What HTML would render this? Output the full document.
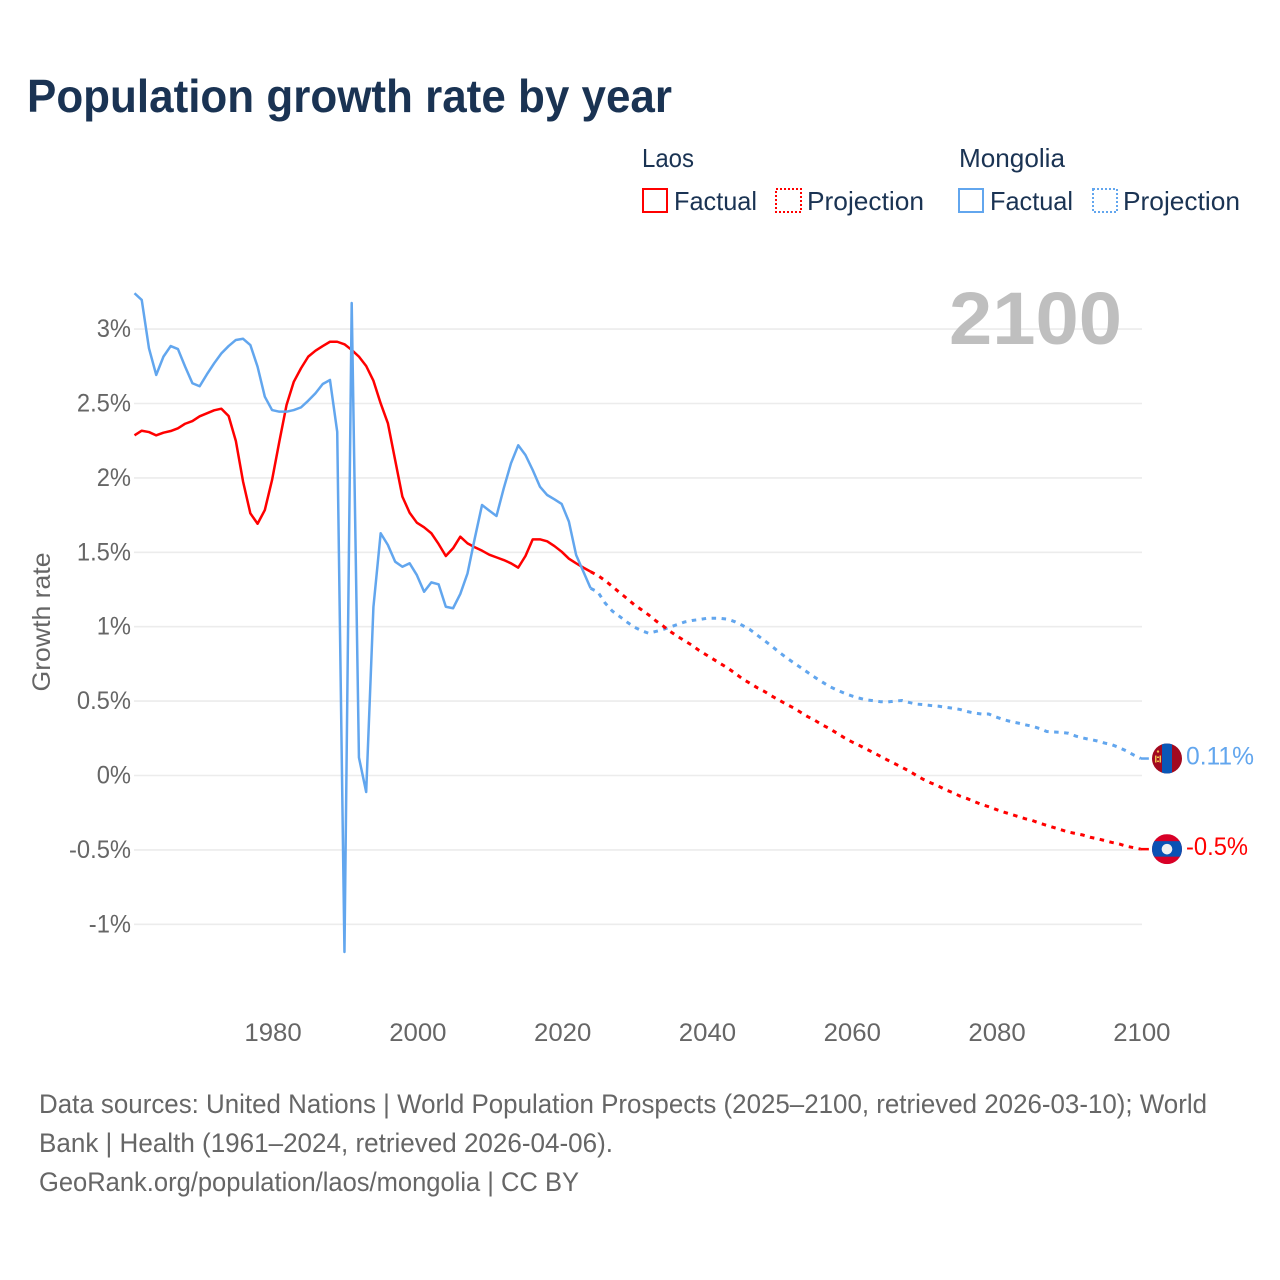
<!DOCTYPE html>
<html lang="en">
<head>
<meta charset="utf-8">
<title>Population growth rate by year</title>
<style>
html,body{margin:0;padding:0;background:#fff;width:1280px;height:1280px;overflow:hidden}
svg{display:block;font-family:"Liberation Sans",sans-serif}
</style>
</head>
<body>
<svg id="chart" width="1280" height="1280" viewBox="0 0 1280 1280" xmlns="http://www.w3.org/2000/svg">
  <rect width="1280" height="1280" fill="#fff"/>
  <text x="27" y="112" font-size="46" font-weight="700" fill="#1a3353" textLength="645" lengthAdjust="spacingAndGlyphs">Population growth rate by year</text>

  <g font-size="26" fill="#1a3353">
    <text x="642" y="167" textLength="52" lengthAdjust="spacingAndGlyphs">Laos</text>
    <text x="959" y="167" textLength="106" lengthAdjust="spacingAndGlyphs">Mongolia</text>
    <rect x="643" y="189" width="24" height="23" fill="none" stroke="#ff0000" stroke-width="2"/>
    <text x="674" y="210" textLength="83" lengthAdjust="spacingAndGlyphs">Factual</text>
    <rect x="776" y="189" width="25" height="23" fill="none" stroke="#ff0000" stroke-width="2" stroke-dasharray="2 2"/>
    <text x="807" y="210" textLength="117" lengthAdjust="spacingAndGlyphs">Projection</text>
    <rect x="959" y="189" width="24" height="23" fill="none" stroke="#62a6ee" stroke-width="2"/>
    <text x="990" y="210" textLength="83" lengthAdjust="spacingAndGlyphs">Factual</text>
    <rect x="1093" y="189" width="24" height="23" fill="none" stroke="#62a6ee" stroke-width="2" stroke-dasharray="2 2"/>
    <text x="1123" y="210" textLength="117" lengthAdjust="spacingAndGlyphs">Projection</text>
  </g>

  <g id="grid"></g>
  <text x="949" y="344" font-size="74" font-weight="700" fill="#bfbfbf" textLength="173" lengthAdjust="spacingAndGlyphs">2100</text>
  <g id="yticks" font-size="25" fill="#666666" text-anchor="end"></g>
  <g id="xticks" font-size="25" fill="#666666" text-anchor="middle"></g>
  <text transform="translate(50 622) rotate(-90)" font-size="25" fill="#666666" text-anchor="middle" textLength="139" lengthAdjust="spacingAndGlyphs">Growth rate</text>
  <g id="series" fill="none" stroke-width="2.5" stroke-linejoin="round"></g>

  <defs>
    <clipPath id="flag-clip"><circle cx="0" cy="0" r="15"/></clipPath>
  </defs>
  <g id="flag-mongolia">
    <g clip-path="url(#flag-clip)">
      <rect x="-15" y="-15" width="30" height="30" fill="#a2091f"/>
      <rect x="-5" y="-15" width="10" height="30" fill="#0a57b6"/>
      <rect x="-12" y="-3" width="1.5" height="7" fill="#f2c14e"/>
      <rect x="-7.5" y="-3" width="1.5" height="7" fill="#f2c14e"/>
      <rect x="-10" y="-2" width="2" height="1.5" fill="#f2c14e"/>
      <rect x="-10" y="2" width="2" height="1.5" fill="#f2c14e"/>
      <circle cx="-9" cy="-7" r="1.2" fill="#f2c14e"/>
    </g>
  </g>
  <g id="flag-laos">
    <g clip-path="url(#flag-clip)">
      <rect x="-15" y="-15" width="30" height="30" fill="#d80027"/>
      <rect x="-15" y="-8" width="30" height="15.5" fill="#0a52b4"/>
      <circle cx="0" cy="0" r="5.3" fill="#f0f0f0"/>
    </g>
  </g>
  <text id="label-mongolia" x="1186" font-size="25" fill="#62a6ee" textLength="68" lengthAdjust="spacingAndGlyphs"></text>
  <text id="label-laos" x="1186" font-size="25" fill="#ff0000" textLength="62" lengthAdjust="spacingAndGlyphs"></text>

  <g font-size="27" fill="#666666">
    <text x="39" y="1113" textLength="1168" lengthAdjust="spacingAndGlyphs">Data sources: United Nations | World Population Prospects (2025–2100, retrieved 2026-03-10); World</text>
    <text x="39" y="1152" textLength="574" lengthAdjust="spacingAndGlyphs">Bank | Health (1961–2024, retrieved 2026-04-06).</text>
    <text x="39" y="1191" textLength="540" lengthAdjust="spacingAndGlyphs">GeoRank.org/population/laos/mongolia | CC BY</text>
  </g>
</svg>

<script>
const yTickValues = [3, 2.5, 2, 1.5, 1, 0.5, 0, -0.5, -1];
const yTickLabels = ["3%", "2.5%", "2%", "1.5%", "1%", "0.5%", "0%", "-0.5%", "-1%"];
const xTickYears = [1980, 2000, 2020, 2040, 2060, 2080, 2100];
const factualStartYear = 1961;
const projectionStartYear = 2025;
const laosFactual = [2.286,2.317,2.308,2.286,2.304,2.315,2.333,2.364,2.382,2.414,2.434,2.454,2.465,2.416,2.248,1.974,1.762,1.692,1.784,1.986,2.243,2.490,2.646,2.737,2.815,2.855,2.886,2.915,2.915,2.898,2.860,2.815,2.752,2.653,2.501,2.367,2.120,1.874,1.766,1.699,1.668,1.628,1.556,1.475,1.527,1.605,1.560,1.534,1.511,1.484,1.466,1.448,1.426,1.397,1.475,1.587,1.587,1.574,1.542,1.504,1.457,1.426,1.397,1.370];
const mongoliaFactual = [3.241,3.196,2.871,2.692,2.815,2.886,2.866,2.747,2.636,2.616,2.696,2.770,2.837,2.886,2.927,2.935,2.893,2.747,2.546,2.456,2.445,2.445,2.456,2.474,2.519,2.569,2.631,2.658,2.310,-1.186,3.175,0.121,-0.111,1.132,1.628,1.549,1.437,1.403,1.426,1.347,1.235,1.298,1.285,1.134,1.124,1.220,1.359,1.594,1.818,1.780,1.744,1.930,2.098,2.219,2.154,2.053,1.941,1.885,1.856,1.825,1.706,1.482,1.370,1.258];
const laosProjection = [1.344,1.31,1.27,1.23,1.19,1.149,1.115,1.08,1.04,1.005,0.968,0.935,0.905,0.875,0.84,0.81,0.78,0.75,0.72,0.685,0.649,0.62,0.59,0.565,0.535,0.507,0.48,0.455,0.425,0.395,0.37,0.34,0.315,0.285,0.255,0.228,0.205,0.18,0.155,0.13,0.104,0.08,0.055,0.03,0,-0.027,-0.05,-0.07,-0.095,-0.115,-0.138,-0.155,-0.175,-0.195,-0.21,-0.228,-0.245,-0.26,-0.275,-0.29,-0.302,-0.32,-0.335,-0.35,-0.365,-0.38,-0.39,-0.40,-0.415,-0.425,-0.437,-0.45,-0.46,-0.475,-0.485,-0.495];
const mongoliaProjection = [1.233,1.159,1.105,1.069,1.032,0.998,0.974,0.956,0.968,0.981,0.998,1.015,1.032,1.042,1.048,1.056,1.057,1.056,1.05,1.032,1.008,0.981,0.944,0.907,0.87,0.83,0.793,0.759,0.726,0.692,0.659,0.628,0.598,0.575,0.554,0.536,0.521,0.509,0.503,0.496,0.494,0.50,0.504,0.491,0.48,0.476,0.47,0.466,0.459,0.452,0.444,0.43,0.42,0.413,0.413,0.393,0.376,0.363,0.353,0.341,0.331,0.316,0.296,0.292,0.29,0.284,0.265,0.252,0.242,0.232,0.218,0.207,0.188,0.165,0.138,0.114];
const mongoliaEndLabel = "0.11%";
const laosEndLabel = "-0.5%";

const NS = "http://www.w3.org/2000/svg";
const xScale = year => 134.5 + (year - 1961) * 7.24;
const yScale = value => 775.5 - value * 148.8;

function linePath(startYear, values) {
  return values.map((v, i) => (i ? "L" : "M") + xScale(startYear + i).toFixed(2) + " " + yScale(v).toFixed(2)).join("");
}
function squeeze(el, factor) {
  el.setAttribute("textLength", (el.getComputedTextLength() * factor).toFixed(1));
  el.setAttribute("lengthAdjust", "spacingAndGlyphs");
}

const gridLayer = document.getElementById("grid");
const yLayer = document.getElementById("yticks");
yTickValues.forEach((v, i) => {
  const line = document.createElementNS(NS, "line");
  
  
  line.setAttribute("x1", 134);
  line.setAttribute("x2", 1142);
  line.setAttribute("y1", yScale(v));
  line.setAttribute("y2", yScale(v));
  line.setAttribute("stroke", "#ececec");
  line.setAttribute("stroke-width", "1.6");
  gridLayer.appendChild(line);
  const t = document.createElementNS(NS, "text");
  
  
  t.setAttribute("x", 131);
  t.setAttribute("y", yScale(v) + 8);
  t.textContent = yTickLabels[i];
  yLayer.appendChild(t);
  squeeze(t, 0.95);
});

const xLayer = document.getElementById("xticks");
xTickYears.forEach(year => {
  const t = document.createElementNS(NS, "text");
  
  
  t.setAttribute("x", xScale(year) + 1);
  t.setAttribute("y", 1041);
  t.textContent = year;
  xLayer.appendChild(t);
  squeeze(t, 1.03);
});

const seriesLayer = document.getElementById("series");
function addLine(name, color, d, dash) {
  const p = document.createElementNS(NS, "path");
  
  
  p.setAttribute("d", d);
  p.setAttribute("stroke", color);
  if (dash) {
    p.setAttribute("stroke-dasharray", dash);
    p.setAttribute("stroke-width", "3");
  }
  seriesLayer.appendChild(p);
}
function tail(values) { return values[values.length - 1]; }
function projectionPath(factual, projection) {
  return linePath(projectionStartYear - 1, [tail(factual)].concat(projection));
}
function connector(projection) {
  const endX = xScale(projectionStartYear + projection.length - 1);
  const endY = yScale(tail(projection));
  return "M" + endX + " " + endY + "L" + (endX + 8) + " " + endY;
}
addLine("mongolia-projection-line", "#62a6ee", projectionPath(mongoliaFactual, mongoliaProjection), "4.5 5.5");
addLine("laos-projection-line", "#ff0000", projectionPath(laosFactual, laosProjection), "4.5 5.5");
addLine("mongolia-end-connector", "#62a6ee", connector(mongoliaProjection));
addLine("laos-end-connector", "#ff0000", connector(laosProjection));
addLine("laos-factual-line", "#ff0000", linePath(factualStartYear, laosFactual));
addLine("mongolia-factual-line", "#62a6ee", linePath(factualStartYear, mongoliaFactual));

const mongoliaEndY = yScale(tail(mongoliaProjection));
const laosEndY = yScale(tail(laosProjection));
document.getElementById("flag-mongolia").setAttribute("transform", "translate(1167 " + mongoliaEndY + ")");
document.getElementById("flag-laos").setAttribute("transform", "translate(1167 " + laosEndY + ")");
const mongoliaLabel = document.getElementById("label-mongolia");
mongoliaLabel.setAttribute("y", mongoliaEndY + 6);
mongoliaLabel.textContent = mongoliaEndLabel;
const laosLabel = document.getElementById("label-laos");
laosLabel.setAttribute("y", laosEndY + 6);
laosLabel.textContent = laosEndLabel;
</script>
</body>
</html>
